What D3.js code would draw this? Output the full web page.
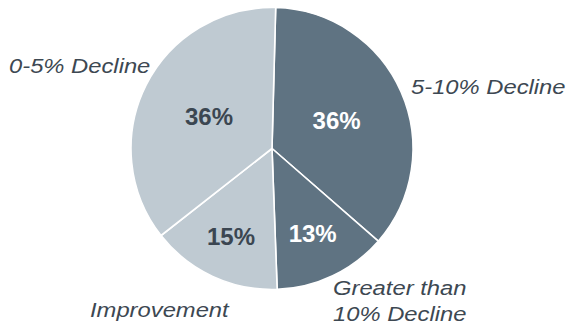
<!DOCTYPE html>
<html>
<head>
<meta charset="utf-8">
<script src="https://cdn.jsdelivr.net/npm/d3@7"></script>
<style>
  html, body { margin: 0; padding: 0; background: #fff; }
  svg { display: block; }
</style>
</head>
<body>
<div id="chart"></div>
<script>
// Share of outcomes, listed clockwise from 12 o'clock
const categories = ["5-10% Decline", "Greater than 10% Decline", "Improvement", "0-5% Decline"];
const values = [36, 13, 15, 36];
const valueLabels = ["36%", "13%", "15%", "36%"];
const sliceColors = ["#5f7382", "#5f7382", "#bfcad2", "#bfcad2"];
const valueTextColors = ["#ffffff", "#ffffff", "#3b4651", "#3b4651"];

const width = 568, height = 326;
const cx = 272, cy = 148.5, radius = 141;

const svg = d3.select("#chart").append("svg")
  .attr("width", width)
  .attr("height", height);

const g = svg.append("g").attr("transform", `translate(${cx},${cy})`);

const offset = 1.5 * Math.PI / 180;
const pie = d3.pie()
  .value(d => d.value)
  .sort(null)
  .startAngle(offset)
  .endAngle(2 * Math.PI + offset);

const data = categories.map((c, i) => ({ category: c, value: values[i], i }));
const arcs = pie(data);

const arc = d3.arc().innerRadius(0).outerRadius(radius);

g.selectAll("path.slice")
  .data(arcs)
  .join("path")
  .attr("class", "slice")
  .attr("d", arc)
  .attr("fill", d => sliceColors[d.data.i])
  .attr("stroke", "#ffffff")
  .attr("stroke-width", 1.6)
  .attr("stroke-linejoin", "round");

// Percentage labels inside each slice, placed along the slice bisector
const labelRadius = [0.5, 0.67, 0.69, 0.5];
g.selectAll("text.value")
  .data(arcs)
  .join("text")
  .attr("class", "value")
  .attr("transform", d => {
    const r = radius * labelRadius[d.data.i];
    const [x, y] = d3.arc().innerRadius(r).outerRadius(r).centroid(d);
    return `translate(${x},${y})`;
  })
  .attr("text-anchor", "middle")
  .attr("dy", "0.36em")
  .attr("font-family", "Liberation Sans, Arial, sans-serif")
  .attr("font-weight", "bold")
  .attr("font-size", 24)
  .attr("fill", d => valueTextColors[d.data.i])
  .text(d => valueLabels[d.data.i]);

// Category names outside the pie
const outside = [
  { lines: ["5-10% Decline"], x: 411, y: 94 },
  { lines: ["Greater than", "10% Decline"], x: 333, y: 295 },
  { lines: ["Improvement"], x: 90, y: 317 },
  { lines: ["0-5% Decline"], x: 9, y: 73 }
];

const nameGroups = svg.selectAll("g.name")
  .data(outside)
  .join("g")
  .attr("class", "name")
  .attr("transform", d => `translate(${d.x},${d.y}) scale(1.16,1)`);

nameGroups.each(function(d) {
  const t = d3.select(this).append("text")
    .attr("font-family", "Liberation Sans, Arial, sans-serif")
    .attr("font-style", "italic")
    .attr("font-size", 20.5)
    .attr("fill", "#3d4852");
  d.lines.forEach((line, k) => {
    t.append("tspan").attr("x", 0).attr("y", k * 26.5).text(line);
  });
});
</script>
</body>
</html>
